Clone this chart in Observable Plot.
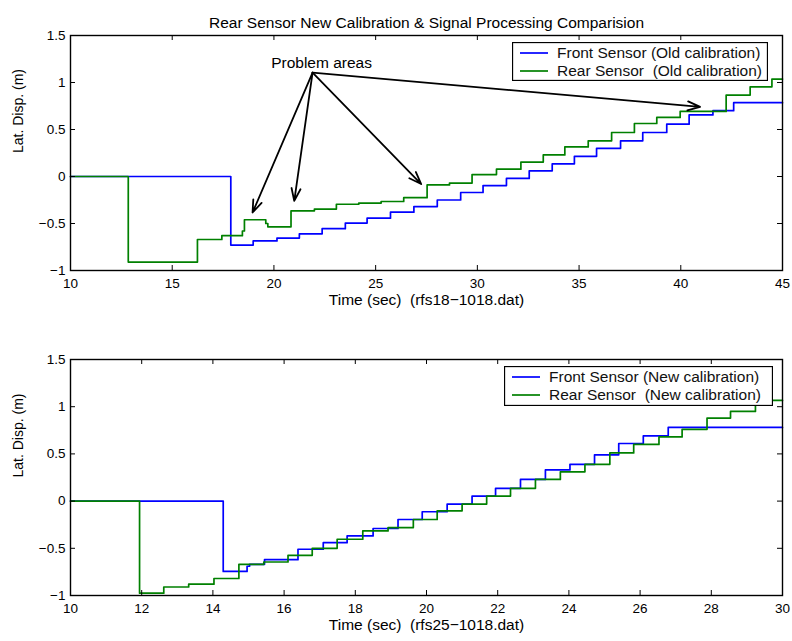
<!DOCTYPE html>
<html><head><meta charset="utf-8">
<script src="https://cdn.jsdelivr.net/npm/d3@7"></script>
<script src="https://cdn.jsdelivr.net/npm/@observablehq/plot@0.6"></script>
<style>
body{margin:0;background:#fff;}
#wrap{position:relative;width:792px;height:641px;overflow:hidden;background:#fff;font-family:"Liberation Sans",Arial,Helvetica,sans-serif;}
#wrap svg.plotsvg{position:absolute;left:0;}
.legend{position:absolute;}
</style></head><body><div id="wrap"></div>
<script>
// ---------- data ----------
const chartTitle = "Rear Sensor New Calibration & Signal Processing Comparision";
const yLabel = "Lat. Disp. (m)";
const yTicks = [-1, -0.5, 0, 0.5, 1, 1.5];

// top panel (old calibration)
const topXLabel = "Time (sec)  (rfs18\u22121018.dat)";
const topXTicks = [10, 15, 20, 25, 30, 35, 40, 45];
const topFrontT = [10, 17.88, 18.98, 20.15, 21.25, 22.37, 23.51, 24.58, 25.73, 26.88, 28.03, 29.18, 30.28, 31.43, 32.55, 33.68, 34.77, 35.86, 37.04, 38.13, 39.31, 40.41, 41.58, 42.6, 45];
const topFrontV = [0, -0.73, -0.685, -0.655, -0.61, -0.555, -0.496, -0.443, -0.38, -0.32, -0.25, -0.17, -0.097, -0.02, 0.06, 0.135, 0.215, 0.30, 0.38, 0.468, 0.557, 0.655, 0.70, 0.785, 0.785];
const topRearT = [10, 12.84, 16.24, 17.44, 18.45, 18.55, 19.6, 19.7, 20.84, 21.99, 23.07, 24.17, 25.27, 26.38, 27.53, 28.63, 29.74, 30.94, 32.14, 33.24, 34.30, 35.45, 36.60, 37.72, 38.82, 39.97, 42.23, 43.41, 44.48, 45];
const topRearV = [0, -0.91, -0.67, -0.63, -0.58, -0.46, -0.50, -0.535, -0.365, -0.347, -0.295, -0.283, -0.266, -0.225, -0.09, -0.07, 0.02, 0.078, 0.153, 0.23, 0.315, 0.38, 0.468, 0.564, 0.628, 0.692, 0.866, 0.954, 1.036, 1.036];
const topLegend = ["Front Sensor (Old calibration)", "Rear Sensor  (Old calibration)"];

// annotation (data coordinates)
const problemLabel = "Problem areas";
const problemLabelAt = [22.34, 1.21];
const problemOrigin = [21.9, 1.105];
const problemTipsT = [18.95, 21.0, 27.24, 40.95];
const problemTipsV = [-0.383, -0.26, -0.08, 0.74];

// bottom panel (new calibration)
const botXLabel = "Time (sec)  (rfs25\u22121018.dat)";
const botXTicks = [10, 12, 14, 16, 18, 20, 22, 24, 26, 28, 30];
const botFrontT = [10, 14.29, 14.96, 15.03, 15.45, 16.39, 17.10, 17.77, 18.50, 19.20, 19.88, 20.58, 21.28, 21.94, 22.64, 23.34, 24.03, 24.72, 25.40, 26.09, 26.79, 30];
const botFrontV = [0, -0.745, -0.69, -0.67, -0.62, -0.51, -0.44, -0.369, -0.29, -0.195, -0.113, -0.032, 0.053, 0.135, 0.23, 0.33, 0.39, 0.49, 0.61, 0.69, 0.78, 0.78];
const botRearT = [10, 11.94, 12.62, 13.32, 14.03, 14.73, 15.43, 16.11, 16.79, 17.49, 18.21, 18.92, 19.63, 20.30, 21.00, 21.69, 22.36, 23.06, 23.76, 24.45, 25.15, 25.82, 26.53, 27.18, 27.88, 28.54, 29.24, 30];
const botRearV = [0, -0.975, -0.91, -0.88, -0.82, -0.67, -0.645, -0.574, -0.50, -0.404, -0.316, -0.28, -0.195, -0.103, -0.032, 0.053, 0.135, 0.23, 0.31, 0.39, 0.51, 0.60, 0.68, 0.76, 0.88, 0.95, 1.067, 1.067];
const botLegend = ["Front Sensor (New calibration)", "Rear Sensor  (New calibration)"];

const frontColor = "#0000ff";
const rearColor = "#008000";

// ---------- drawing ----------
const FONT = '"Liberation Sans", Arial, Helvetica, sans-serif';
const W = 792, ML = 70, MR = 10;
const zip = (T, V) => T.map((t, i) => ({t, v: V[i]}));
const fmt = d3.format("");

function panel({front, rear, xDomain, xTicks, xLabel, height, marginTop, marginBottom, extra = []}) {
  const areaH = height - marginTop - marginBottom;
  const areaW = W - ML - MR;
  const tl = 5;
  return Plot.plot({
    width: W, height, marginLeft: ML, marginRight: MR, marginTop, marginBottom,
    style: {fontFamily: FONT, fontSize: "13.5px", color: "#000", background: "transparent", overflow: "visible"},
    x: {domain: xDomain},
    y: {domain: [-1, 1.5]},
    marks: [
      Plot.line(front, {x: "t", y: "v", curve: "step-after", stroke: frontColor, strokeWidth: 1.7}),
      Plot.line(rear, {x: "t", y: "v", curve: "step-after", stroke: rearColor, strokeWidth: 1.7}),
      Plot.frame({stroke: "#000", strokeWidth: 1.4}),
      Plot.tickX(xTicks, {x: d => d, insetTop: areaH - tl, stroke: "#000"}),
      Plot.tickX(xTicks, {x: d => d, insetBottom: areaH - tl, stroke: "#000"}),
      Plot.tickY(yTicks, {y: d => d, insetRight: areaW - tl, stroke: "#000"}),
      Plot.tickY(yTicks, {y: d => d, insetLeft: areaW - tl, stroke: "#000"}),
      Plot.axisX({ticks: xTicks, tickSize: 0, tickPadding: 8, label: null, tickFormat: fmt, fontSize: 13.5}),
      Plot.axisY({ticks: yTicks, tickSize: 0, tickPadding: 5, label: null, tickFormat: fmt, fontSize: 13.5}),
      Plot.text([xLabel], {text: d => d, frameAnchor: "bottom", dy: 34, fontSize: 15.5}),
      Plot.text([yLabel], {text: d => d, frameAnchor: "left", rotate: -90, dx: -52, fontSize: 14}),
      ...extra
    ]
  });
}

const wrap = document.getElementById("wrap");

const tips = problemTipsT.map((t, i) => ({t, v: problemTipsV[i]}));
const topSvg = panel({
  front: zip(topFrontT, topFrontV), rear: zip(topRearT, topRearV),
  xDomain: [topXTicks[0], topXTicks[topXTicks.length - 1]], xTicks: topXTicks, xLabel: topXLabel,
  height: 320, marginTop: 35, marginBottom: 50,
  extra: [
    Plot.text([chartTitle], {text: d => d, frameAnchor: "top", dy: -19, fontSize: 15.5}),
    Plot.arrow(tips, {x1: () => problemOrigin[0], y1: () => problemOrigin[1], x2: "t", y2: "v", stroke: "#000", strokeWidth: 1.8, headLength: 11, headAngle: 40}),
    Plot.text([problemLabel], {x: () => problemLabelAt[0], y: () => problemLabelAt[1], text: d => d, fontSize: 15.5})
  ]
});
topSvg.classList.add("plotsvg");
topSvg.style.top = "0px";
wrap.appendChild(topSvg);

const botSvg = panel({
  front: zip(botFrontT, botFrontV), rear: zip(botRearT, botRearV),
  xDomain: [botXTicks[0], botXTicks[botXTicks.length - 1]], xTicks: botXTicks, xLabel: botXLabel,
  height: 321, marginTop: 39, marginBottom: 46
});
botSvg.classList.add("plotsvg");
botSvg.style.top = "320px";
wrap.appendChild(botSvg);

// legends (boxes in the upper-right corner of each panel)
function legend(labels, {left, top, width, height}) {
  const svg = d3.create("svg").attr("class", "legend").attr("width", width).attr("height", height)
    .style("left", left + "px").style("top", top + "px");
  svg.append("rect").attr("x", 0.5).attr("y", 0.5).attr("width", width - 1).attr("height", height - 1)
    .attr("fill", "#fff").attr("stroke", "#000").attr("stroke-width", 1.3);
  const colors = [frontColor, rearColor];
  labels.forEach((lab, i) => {
    const cy = 11 + i * 18;
    svg.append("line").attr("x1", 8).attr("x2", 36).attr("y1", cy).attr("y2", cy)
      .attr("stroke", colors[i]).attr("stroke-width", 1.7);
    svg.append("text").attr("x", 45).attr("y", cy).attr("dy", "0.35em")
      .attr("font-family", FONT).attr("font-size", 15.5).attr("fill", "#111")
      .attr("xml:space", "preserve").style("white-space", "pre").text(lab);
  });
  wrap.appendChild(svg.node());
}
legend(topLegend, {left: 512, top: 42, width: 256, height: 39});
legend(botLegend, {left: 504, top: 366, width: 269, height: 40});
</script></body></html>
